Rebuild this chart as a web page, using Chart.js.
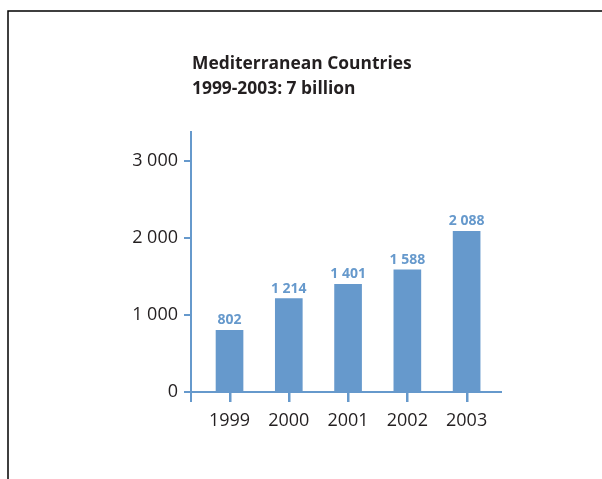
<!DOCTYPE html>
<html>
<head>
<meta charset="utf-8">
<script src="https://cdn.jsdelivr.net/npm/chart.js@4/dist/chart.umd.min.js"></script>
<style>
  html, body { margin: 0; padding: 0; background: #fff; }
  #wrap { position: relative; width: 602px; height: 479px; }
</style>
</head>
<body>
<div id="wrap"><canvas id="chart" width="602" height="479"></canvas></div>
<script>
const years = ['1999', '2000', '2001', '2002', '2003'];
const values = [802, 1214, 1401, 1588, 2088];
const yTicks = [0, 1000, 2000, 3000];
const titleLines = ['Mediterranean Countries', '1999-2003: 7 billion'];

const blue = '#6699cc';
const dark = '#231f20';

function fmt(v) {
    return String(v).replace(/\B(?=(\d{3})+(?!\d))/g, ' ');
}

const xMin = -0.65;

// frame, title, value labels and the small ticks under each bar
const extras = {
    id: 'extras',
    beforeDraw(chart) {
        const ctx = chart.ctx;
        ctx.save();
        ctx.strokeStyle = '#000';
        ctx.lineWidth = 1.5;
        ctx.beginPath();
        ctx.moveTo(8, 479);
        ctx.lineTo(8, 11);
        ctx.lineTo(602, 11);
        ctx.stroke();
        ctx.fillStyle = dark;
        ctx.font = 'bold 17.4px "Open Sans"';
        ctx.textBaseline = 'alphabetic';
        ctx.fillText(titleLines[0], 192, 69);
        ctx.fillText(titleLines[1], 192, 94);
        ctx.restore();
    },
    afterDatasetsDraw(chart) {
        const ctx = chart.ctx;
        const meta = chart.getDatasetMeta(0);
        const xs = chart.scales.x;
        ctx.save();
        ctx.fillStyle = blue;
        ctx.font = 'bold 14px "Open Sans"';
        ctx.textAlign = 'center';
        ctx.textBaseline = 'alphabetic';
        meta.data.forEach((bar, i) => {
            ctx.fillText(fmt(values[i]), bar.x, bar.y - 6);
        });
        ctx.strokeStyle = blue;
        ctx.lineWidth = 2;
        ctx.beginPath();
        years.forEach((y, i) => {
            const px = Math.round(xs.getPixelForValue(i)) + 0.5;
            ctx.moveTo(px, xs.top);
            ctx.lineTo(px, xs.top + 10);
        });
        ctx.stroke();
        ctx.restore();
    }
};

new Chart(document.getElementById('chart'), {
    type: 'bar',
    data: {
        datasets: [{
            data: values.map((v, i) => ({ x: i, y: v })),
            backgroundColor: blue,
            borderWidth: 0,
            barThickness: 27
        }]
    },
    plugins: [extras],
    options: {
        responsive: false,
        animation: false,
        layout: { padding: { top: 132, right: 101, left: 0, bottom: 0 } },
        plugins: { legend: { display: false }, tooltip: { enabled: false } },
        scales: {
            x: {
                type: 'linear',
                offset: false,
                min: xMin,
                max: 4.58,
                afterBuildTicks(scale) {
                    scale.ticks = [xMin].concat(years.map((y, i) => i)).map(v => ({ value: v }));
                },
                afterFit(scale) { scale.height = 87; },
                border: { display: true, color: blue, width: 2 },
                grid: { offset: false, drawOnChartArea: false, drawTicks: true, tickLength: 10, color: blue, lineWidth: 2 },
                ticks: {
                    padding: 8,
                    color: dark,
                    font: { family: '"Open Sans"', size: 18 },
                    callback: (v) => (Number.isInteger(v) && years[v] !== undefined) ? years[v] : ''
                }
            },
            y: {
                min: 0,
                max: 3380,
                afterBuildTicks(scale) {
                    scale.ticks = yTicks.map(v => ({ value: v }));
                },
                afterFit(scale) { scale.width = 191; },
                border: { display: true, color: blue, width: 2 },
                grid: { drawOnChartArea: false, drawTicks: true, tickLength: 7, color: blue, lineWidth: 2 },
                ticks: {
                    padding: 6,
                    color: dark,
                    font: { family: '"Open Sans"', size: 18 },
                    callback: (v) => fmt(v)
                }
            }
        }
    }
});
</script>
</body>
</html>
